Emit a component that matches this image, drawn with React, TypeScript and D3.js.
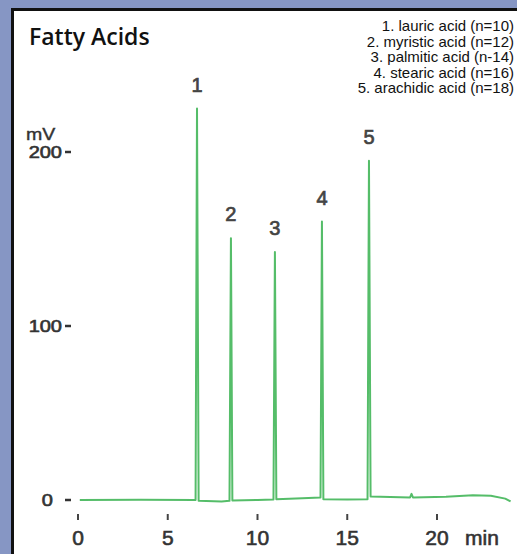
import React, { useEffect, useRef } from "react";
import * as d3 from "d3";

// chromatogram trace: [time (min), signal (mV)]
const trace: [number, number][] = [
	[0.1, 0], [3.5, 0.2], [6.5, 0], [6.55, 0], [6.63, 225], [6.72, -0.5],
	[8.0, -0.8], [8.44, -0.5], [8.52, 150.5], [8.6, -0.3],
	[10.0, 0], [10.89, 0.3], [10.97, 142.5], [11.05, 0.5],
	[12.5, 1], [13.51, 1.5], [13.59, 160], [13.67, 0.5],
	[15.0, 0.3], [16.13, 0.5], [16.21, 195], [16.3, 2],
	[18.5, 1.5], [18.58, 3.5], [18.66, 1.5], [20.5, 1.8],
	[22.0, 2.8], [23.0, 2.5], [23.8, 0.8], [24.1, -0.8],
];

// peak labels: number, retention time, height
const peakIds = ["1", "2", "3", "4", "5"];
const peakTimes = [6.63, 8.52, 10.97, 13.59, 16.21];
const peakHeights = [225, 150.5, 142.5, 160, 195];

const legendLines = [
	"1. lauric acid (n=10)",
	"2. myristic acid (n=12)",
	"3. palmitic acid (n-14)",
	"4. stearic acid (n=16)",
	"5. arachidic acid (n=18)",
];

const xTicks = [0, 5, 10, 15, 20];
const yTicks = [0, 100, 200];

const W = 517;
const H = 554;
const AXIS_FONT = "'Liberation Sans', Arial, sans-serif";

function draw(ref: SVGSVGElement) {
	const svg = d3.select(ref).attr("width", W).attr("height", H);
	svg.selectAll("*").remove();

	// background + white panel with black left/top border
	svg.append("rect").attr("width", W).attr("height", H).attr("fill", "#8696c4");
	svg.append("rect").attr("x", 11).attr("y", 8).attr("width", W).attr("height", H).attr("fill", "#111");
	svg.append("rect").attr("x", 14).attr("y", 11).attr("width", W).attr("height", H).attr("fill", "#fff");

	svg
		.append("text")
		.attr("x", 29)
		.attr("y", 45)
		.attr("font-family", "'Open Sans', sans-serif")
		.attr("font-size", 23)
		.attr("font-weight", 600)
		.attr("fill", "#111")
		.text("Fatty Acids");

	// legend, right aligned
	svg
		.append("g")
		.selectAll("text")
		.data(legendLines)
		.enter()
		.append("text")
		.attr("x", 514)
		.attr("y", (d, i) => 31 + i * 15.5)
		.attr("text-anchor", "end")
		.attr("font-family", "'Liberation Sans Narrow', 'Liberation Sans', Arial, sans-serif")
		.attr("font-size", 15)
		.attr("fill", "#111")
		.text((d) => d);

	const x = d3.scaleLinear().domain([0, 20]).range([78, 437]);
	const y = d3.scaleLinear().domain([0, 200]).range([500, 152]);

	// x axis: small ticks + labels
	const xg = svg.append("g");
	xg.selectAll("line")
		.data(xTicks)
		.enter()
		.append("line")
		.attr("x1", (d) => x(d))
		.attr("x2", (d) => x(d))
		.attr("y1", 514)
		.attr("y2", 520)
		.attr("stroke", "#444")
		.attr("stroke-width", 2);
	xg.selectAll("text")
		.data(xTicks)
		.enter()
		.append("text")
		.attr("x", (d) => x(d))
		.attr("y", 545)
		.attr("text-anchor", "middle")
		.attr("font-family", AXIS_FONT)
		.attr("font-size", 21)
		.attr("fill", "#333")
		.attr("stroke", "#333")
		.attr("stroke-width", 0.6)
		.text((d) => d);
	xg.append("text")
		.attr("x", 465)
		.attr("y", 545)
		.attr("font-family", AXIS_FONT)
		.attr("font-size", 21)
		.attr("fill", "#333")
		.attr("stroke", "#333")
		.attr("stroke-width", 0.6)
		.text("min");

	// y axis: dash ticks + labels
	const yg = svg.append("g");
	yg.selectAll("line")
		.data(yTicks)
		.enter()
		.append("line")
		.attr("x1", 65)
		.attr("x2", 71)
		.attr("y1", (d) => y(d))
		.attr("y2", (d) => y(d))
		.attr("stroke", "#333")
		.attr("stroke-width", 2.5);
	yg.selectAll("text")
		.data(yTicks)
		.enter()
		.append("text")
		.attr("transform", (d) => `translate(${d === 0 ? 53 : 62},${y(d) + 6}) scale(1.25,1)`)
		.attr("text-anchor", "end")
		.attr("font-family", AXIS_FONT)
		.attr("font-size", 16)
		.attr("fill", "#333")
		.attr("stroke", "#333")
		.attr("stroke-width", 0.6)
		.text((d) => d);
	yg.append("text")
		.attr("transform", `translate(26,${y(200) - 12}) scale(1.15,1)`)
		.attr("font-family", AXIS_FONT)
		.attr("font-size", 17)
		.attr("fill", "#333")
		.attr("stroke", "#333")
		.attr("stroke-width", 0.4)
		.text("mV");

	// trace
	const line = d3
		.line<[number, number]>()
		.x((d) => x(d[0]))
		.y((d) => y(d[1]));
	svg.append("path")
		.datum(trace)
		.attr("d", line)
		.attr("fill", "none")
		.attr("stroke", "#55bd69")
		.attr("stroke-width", 2)
		.attr("stroke-linejoin", "round");

	// peak numbers
	svg.append("g")
		.selectAll("text")
		.data(peakIds)
		.enter()
		.append("text")
		.attr("x", (d, i) => x(peakTimes[i]))
		.attr("y", (d, i) => y(peakHeights[i]) - 17)
		.attr("text-anchor", "middle")
		.attr("font-family", AXIS_FONT)
		.attr("font-size", 20)
		.attr("fill", "#444")
		.attr("stroke", "#444")
		.attr("stroke-width", 0.7)
		.text((d) => d);
}

export default function App() {
	const ref = useRef<SVGSVGElement>(null);
	useEffect(() => {
		if (!ref.current) return;
		draw(ref.current);
	}, []);
	return <svg ref={ref} style={{ position: "absolute", left: 0, top: 0 }} />;
}
